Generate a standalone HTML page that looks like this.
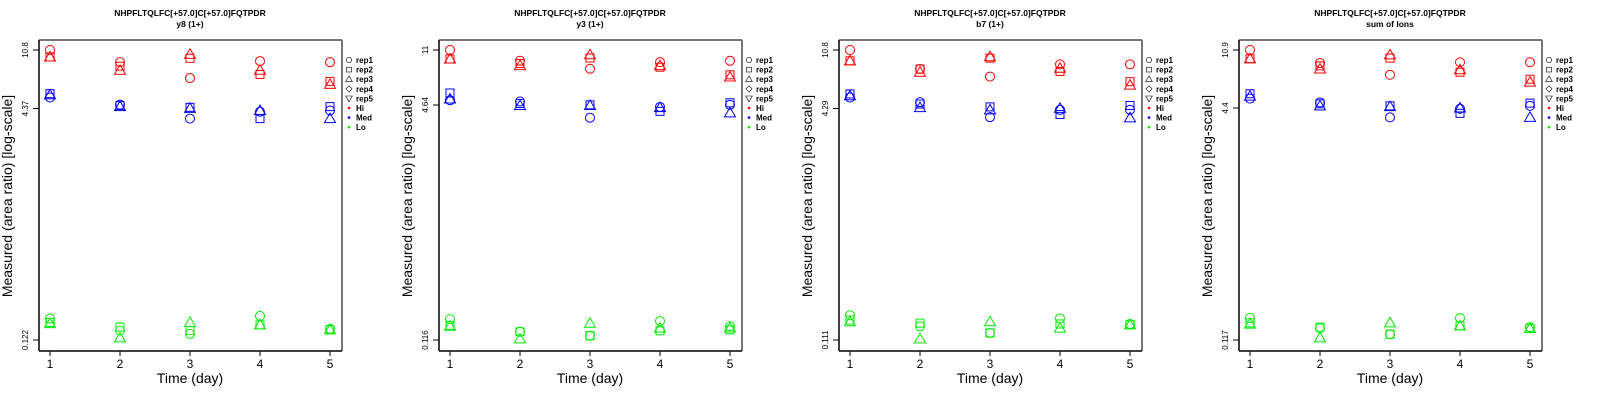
<!DOCTYPE html>
<html><head><meta charset="utf-8"><style>
html,body{margin:0;padding:0;background:#fff;}
svg{display:block;font-family:"Liberation Sans",sans-serif;}
</style></head><body>
<svg id="chart" width="1600" height="400" viewBox="0 0 1600 400"></svg>
<script>
// ---- data ----
const days = [1,2,3,4,5];
const repLabels = ["rep1","rep2","rep3","rep4","rep5"];
const levelLabels = ["Hi","Med","Lo"];
const panelTitles = ["y8 (1+)","y3 (1+)","b7 (1+)","sum of Ions"];
const peptide = "NHPFLTQLFC[+57.0]C[+57.0]FQTPDR";
const tickLabels = [["10.8","4.37","0.122"],["11","4.64","0.116"],["10.8","4.29","0.111"],["10.9","4.4","0.117"]];
const tickValues = [[10.8,4.37,0.122],[11,4.64,0.116],[10.8,4.29,0.111],[10.9,4.4,0.117]];
// values [rep][day] (rep1..rep3 plotted)
const y8Hi = [[10.8,8.95,7.0,9.1,8.95],[9.7,8.4,9.5,7.4,6.65],[9.7,7.9,10.1,7.9,6.35]];
const y8Med = [[5.18,4.64,3.74,4.16,4.24],[5.5,4.57,4.45,3.74,4.5],[5.4,4.5,4.38,4.24,3.74]];
const y8Lo = [[0.170,0.141,0.134,0.177,0.145],[0.160,0.149,0.141,0.154,0.143],[0.157,0.126,0.160,0.154,0.143]];
const y3Hi = [[11,9.3,8.2,9.1,9.3],[9.55,8.9,9.7,8.4,7.45],[9.55,8.6,10.2,8.6,7.2]];
const y3Med = [[5.0,4.9,3.8,4.5,4.65],[5.6,4.75,4.65,4.2,4.8],[5.1,4.6,4.6,4.45,4.1]];
const y3Lo = [[0.161,0.132,0.124,0.156,0.144],[0.146,0.132,0.124,0.134,0.136],[0.144,0.118,0.151,0.140,0.140]];
const b7Hi = [[10.8,8.0,7.1,8.6,8.6],[9.1,8.0,9.5,7.7,6.55],[9.1,7.6,9.7,8.1,6.2]];
const b7Med = [[5.1,4.74,3.74,4.2,4.2],[5.4,4.6,4.4,3.9,4.5],[5.25,4.35,4.2,4.3,3.7]];
const b7Lo = [[0.164,0.138,0.124,0.156,0.143],[0.152,0.145,0.124,0.143,0.141],[0.148,0.113,0.148,0.134,0.141]];
const sumHi = [[10.9,8.9,7.4,9.0,9.0],[9.5,8.5,9.6,7.7,6.9],[9.5,8.1,10.1,8.0,6.6]];
const sumMed = [[5.1,4.8,3.8,4.35,4.55],[5.5,4.7,4.55,4.05,4.75],[5.3,4.55,4.5,4.4,3.8]];
const sumLo = [[0.165,0.141,0.128,0.165,0.143],[0.153,0.143,0.128,0.146,0.140],[0.150,0.121,0.153,0.146,0.140]];
const panelData = [[y8Hi,y8Med,y8Lo],[y3Hi,y3Med,y3Lo],[b7Hi,b7Med,b7Lo],[sumHi,sumMed,sumLo]];
const levelColors = ["#ff0000","#0000ff","#00ee00"];

const NS = "http://www.w3.org/2000/svg";
const svg = document.getElementById("chart");
function mk(tag, attrs, parent){const e=document.createElementNS(NS,tag);for(const k in attrs)e.setAttribute(k,attrs[k]);(parent||svg).appendChild(e);return e;}

function marker(g, shape, cx, cy, color){
  const r=4.5; let e;
  if(shape===0){e=mk("circle",{cx:cx,cy:cy,r:r,fill:"none",stroke:color,"stroke-width":1},g);}
  else if(shape===1){e=mk("rect",{x:cx-4,y:cy-4,width:8,height:8,fill:"none",stroke:color,"stroke-width":1},g);}
  else if(shape===2){e=mk("polygon",{points:`${cx},${cy-5.5} ${cx-5.5},${cy+4} ${cx+5.5},${cy+4}`,fill:"none",stroke:color,"stroke-width":1},g);}
  else if(shape===3){e=mk("polygon",{points:`${cx},${cy-5} ${cx-5},${cy} ${cx},${cy+5} ${cx+5},${cy}`,fill:"none",stroke:color,"stroke-width":1},g);}
  else {e=mk("polygon",{points:`${cx},${cy+5.5} ${cx-5.5},${cy-4} ${cx+5.5},${cy-4}`,fill:"none",stroke:color,"stroke-width":1},g);}
  return e;
}

for(let p=0;p<4;p++){
  const ox=p*400;
  const g=mk("g",{transform:`translate(${ox},0)`});
  
  
  const top=tickValues[p][0], bot=tickValues[p][2];
  const yS=v=>50+(Math.log(top)-Math.log(v))/(Math.log(top)-Math.log(bot))*290;
  const xS=d=>50+(d-1)*70;
  const t1=mk("text",{x:190,y:16,"text-anchor":"middle","font-size":"8.5","font-weight":"bold"},g);t1.textContent=peptide;
  
  
  const t2=mk("text",{x:190,y:27,"text-anchor":"middle","font-size":"8.5","font-weight":"bold"},g);t2.textContent=panelTitles[p];
  
  
  mk("line",{x1:39,y1:40,x2:342,y2:40,stroke:"#777","stroke-width":2},g);
  mk("line",{x1:342,y1:40,x2:342,y2:351,stroke:"#777","stroke-width":2},g);
  const ax=mk("line",{x1:39,y1:40,x2:39,y2:351,stroke:"#000","stroke-width":1.5},g);
  
  
  const bx=mk("line",{x1:39,y1:351,x2:342,y2:351,stroke:"#000","stroke-width":1.5},g);
  
  
  for(let i=0;i<3;i++){
    const y=yS(tickValues[p][i]);
    mk("line",{x1:33,y1:y,x2:39,y2:y,stroke:"#000"},g);
    const tl=mk("text",{x:28,y:y,"text-anchor":"middle","font-size":"8",transform:`rotate(-90 28 ${y})`},g);
    tl.textContent=tickLabels[p][i];
    
    
  }
  days.forEach(d=>{
    const x=xS(d);
    mk("line",{x1:x,y1:351,x2:x,y2:356,stroke:"#000"},g);
    const tl=mk("text",{x:x,y:368,"text-anchor":"middle","font-size":"12"},g);
    tl.textContent=String(d);
    
    
  });
  const xt=mk("text",{x:190,y:383,"text-anchor":"middle","font-size":"14"},g);xt.textContent="Time (day)";
  
  
  const yt=mk("text",{x:12,y:196,"text-anchor":"middle","font-size":"14",transform:"rotate(-90 12 196)"},g);yt.textContent="Measured (area ratio) [log-scale]";
  
  
  for(let L=0;L<3;L++){
    const arr=panelData[p][L];
    for(let r=arr.length-1;r>=0;r--){
      days.forEach((d,i)=>{
        const m=marker(g,r,xS(d),yS(arr[r][i]),levelColors[L]);
        
        
      });
    }
  }
  const lg=mk("g",{},g);
  
  
  for(let i=0;i<8;i++){
    const y=60+i*9.6;
    if(i<5){
      const m=marker(lg,i,349,y,"#000");
      m.setAttribute("transform",`translate(349 ${y}) scale(0.6) translate(-349 ${-y})`);
    } else {
      mk("circle",{cx:349,cy:y,r:1.3,fill:levelColors[i-5]},lg);
    }
    const tx=mk("text",{x:356,y:y+3,"font-size":"8","font-weight":"bold"},lg);
    tx.textContent=i<5?repLabels[i]:levelLabels[i-5];
    
    
  }
}
</script>
</body></html>
